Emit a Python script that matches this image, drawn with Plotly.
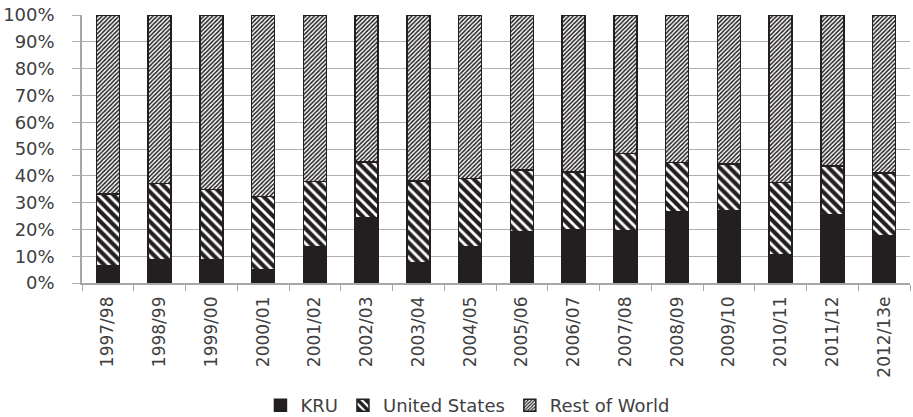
import plotly.graph_objects as go

# Marketing years
years = ["1997/98", "1998/99", "1999/00", "2000/01", "2001/02", "2002/03",
         "2003/04", "2004/05", "2005/06", "2006/07", "2007/08", "2008/09",
         "2009/10", "2010/11", "2011/12", "2012/13e"]

# Shares of world total, percent
kru = [6.4, 8.7, 8.5, 4.9, 13.4, 24.2, 7.4, 13.6, 19.0, 19.8, 19.5, 26.6,
       27.0, 10.5, 25.4, 17.6]
united_states = [26.8, 28.5, 26.4, 27.3, 24.4, 21.0, 30.7, 25.4, 23.1, 21.7,
                 28.8, 18.4, 17.4, 27.0, 18.3, 23.5]
rest_of_world = [66.8, 62.8, 65.1, 67.8, 62.2, 54.8, 61.9, 61.0, 57.9, 58.5,
                 51.7, 55.0, 55.6, 62.5, 56.3, 58.9]

ink = "#231f20"
text_col = "#404040"
font_family = "DejaVu Sans"

fig = go.Figure()
fig.add_trace(go.Bar(
    name="KRU", x=years, y=kru,
    marker=dict(color=ink, line=dict(color=ink, width=1.5)),
))
fig.add_trace(go.Bar(
    name="United States", x=years, y=united_states,
    marker=dict(color="white", line=dict(color=ink, width=1.5),
                pattern=dict(shape="\\", size=7, solidity=0.6,
                             fgcolor=ink, bgcolor="white", fillmode="replace")),
))
fig.add_trace(go.Bar(
    name="Rest of World", x=years, y=rest_of_world,
    marker=dict(color="white", line=dict(color=ink, width=1.5),
                pattern=dict(shape="/", size=3, solidity=0.5,
                             fgcolor=ink, bgcolor="white", fillmode="replace")),
))

fig.update_layout(
    barmode="stack",
    barnorm="percent",
    bargap=0.56,
    width=913, height=417,
    margin=dict(l=82, r=3, t=15, b=134, autoexpand=False),
    paper_bgcolor="white",
    plot_bgcolor="white",
    font=dict(family=font_family, size=17, color=text_col),
    showlegend=True,
    legend=dict(
        orientation="h",
        xref="container", yref="paper",
        x=0.512, xanchor="center",
        y=-0.388, yanchor="top",
        font=dict(size=18, color=text_col),
        traceorder="normal",
        itemwidth=30,
    ),
)

fig.update_xaxes(
    type="category",
    tickangle=-90,
    tickson="boundaries",
    ticks="outside", ticklen=6, tickcolor="#a6a6a6",
    ticklabelstandoff=5,
    showline=True, linecolor="#a6a6a6", linewidth=1.5,
    showgrid=False,
    tickfont=dict(size=17, color=text_col),
)
fig.update_yaxes(
    range=[0, 100],
    tickvals=list(range(0, 101, 10)),
    ticktext=[f"{v}%" for v in range(0, 101, 10)],
    ticks="outside", ticklen=8, tickcolor="#b0b0b0",
    ticklabelstandoff=14,
    showline=True, linecolor="#a6a6a6", linewidth=1.5,
    showgrid=True, gridcolor="#b0b0b0", gridwidth=1.2,
    zeroline=False,
    tickfont=dict(size=18, color=text_col),
)

fig.write_html("out.html")
